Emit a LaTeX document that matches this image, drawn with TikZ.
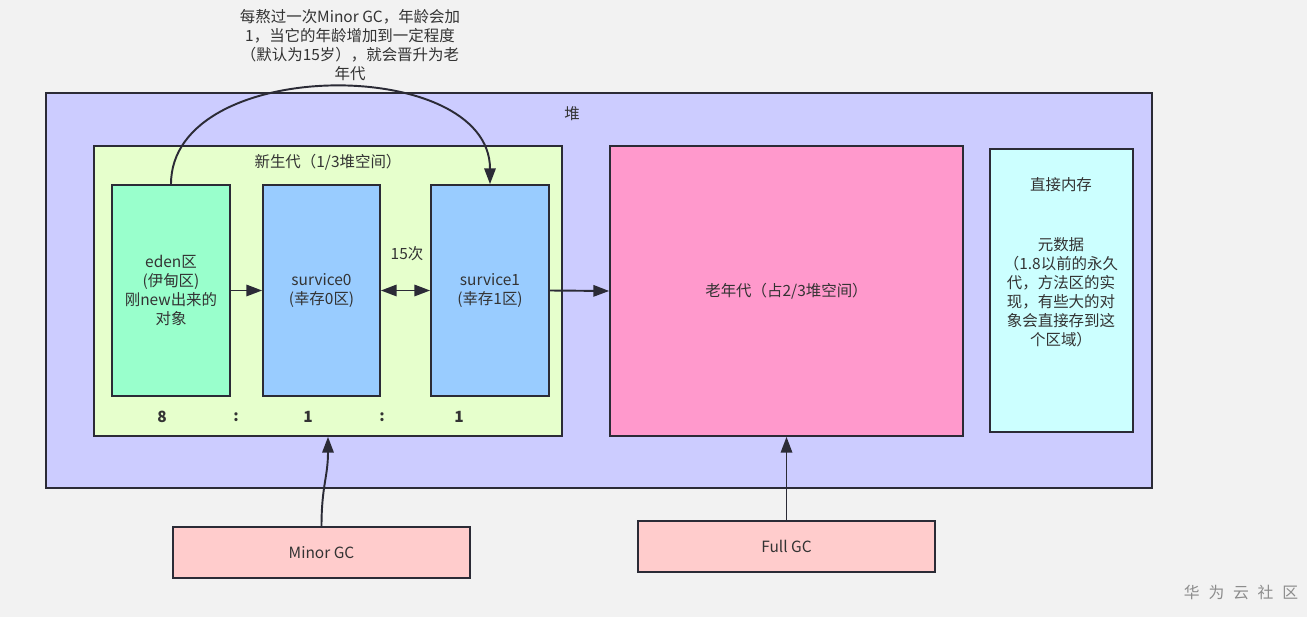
\documentclass[tikz,border=0pt]{standalone}
\usepackage{fontspec}
\usetikzlibrary{arrows.meta}
\newfontfamily\cjk{Noto Sans CJK SC}
\definecolor{bgcol}{HTML}{F2F2F2}
\definecolor{heapcol}{HTML}{CCCCFF}
\definecolor{youngcol}{HTML}{E6FFCC}
\definecolor{edencol}{HTML}{99FFCC}
\definecolor{survcol}{HTML}{99CCFF}
\definecolor{oldcol}{HTML}{FF99CC}
\definecolor{directcol}{HTML}{CCFFFF}
\definecolor{gccol}{HTML}{FFCCCC}
\definecolor{linecol}{HTML}{2B2B36}
\definecolor{txtcol}{HTML}{333333}

\begin{document}
\begin{tikzpicture}[x=0.02cm,y=-0.02cm,>={Triangle[length=9pt,width=6.5pt]},
    every node/.style={font=\cjk\fontsize{8.8}{10.8}\selectfont,text=txtcol},
    area/.style={draw=linecol,line width=1pt,inner sep=0pt,align=center},
    arr/.style={->,draw=linecol,line width=1.1pt}]
    \fill[bgcol] (0,0) rectangle (1307,617);

    % heap and its parts
    \node[area,fill=heapcol,minimum width=22.12cm,minimum height=7.9cm] (heap) at (599,290.5) {};
    \node (heaplbl) at (572,114) {堆};
    \node[area,fill=youngcol,minimum width=9.36cm,minimum height=5.8cm] (young) at (328,291) {};
    \node (younglbl) at (328,162) {新生代（1/3堆空间）};
    \node[area,fill=edencol,minimum width=2.36cm,minimum height=4.22cm] (eden) at (171,290.5) {eden区\\(伊甸区)\\刚new出来的\\对象};
    \node[area,fill=survcol,minimum width=2.34cm,minimum height=4.22cm] (s0) at (321.5,290.5) {survice0\\(幸存0区)};
    \node[area,fill=survcol,minimum width=2.36cm,minimum height=4.22cm] (s1) at (490,290.5) {survice1\\(幸存1区)};
    \node[area,fill=oldcol,minimum width=7.06cm,minimum height=5.8cm] (old) at (786.5,291) {老年代（占2/3堆空间）};
    \node[area,fill=directcol,minimum width=2.86cm,minimum height=5.66cm] (direct) at (1061.5,290.5) {};
    \node (directlbl) at (1061,185) {直接内存};
    \node[align=center] (meta) at (1061,292) {元数据\\（1.8以前的永久\\代，方法区的实\\现，有些大的对\\象会直接存到这\\个区域）};

    % ratio 8:1:1
    \foreach \x/\t [count=\i] in {162/8,236/:,308/1,382/:,459/1}
      \node[font=\cjk\bfseries\fontsize{8.8}{10}\selectfont] (r\i) at (\x,417) {\t};
    \node (times) at (407,254) {15次};

    % gc triggers
    \node[area,fill=gccol,minimum width=5.94cm,minimum height=1.02cm] (minor) at (321.5,552.5) {Minor GC};
    \node[area,fill=gccol,minimum width=5.94cm,minimum height=1.02cm] (full) at (786.5,546.5) {Full GC};

    \node[align=center] (note) at (350,45) {每熬过一次Minor GC，年龄会加\\1，当它的年龄增加到一定程度\\（默认为15岁），就会晋升为老\\年代};
    \node[text=black!45,font=\cjk\fontsize{9}{10}\selectfont] (mark) at (1241,592) {华\hspace{5pt}为\hspace{5pt}云\hspace{5pt}社\hspace{5pt}区};

    \draw[arr] (eden.east) -- (s0.west);
    \draw[arr,<->] (s0.east) -- (s1.west);
    \draw[arr] (s1.east) -- (old.west);
    \draw[arr] (eden.north) .. controls +(0,-129) and +(0,-129) .. (s1.north);
    \draw[arr] (minor.north) .. controls +(0,-40) and +(0,40) .. (young.south);
    \draw[arr] (full.north) -- (old.south);
  \end{tikzpicture}
\end{document}
